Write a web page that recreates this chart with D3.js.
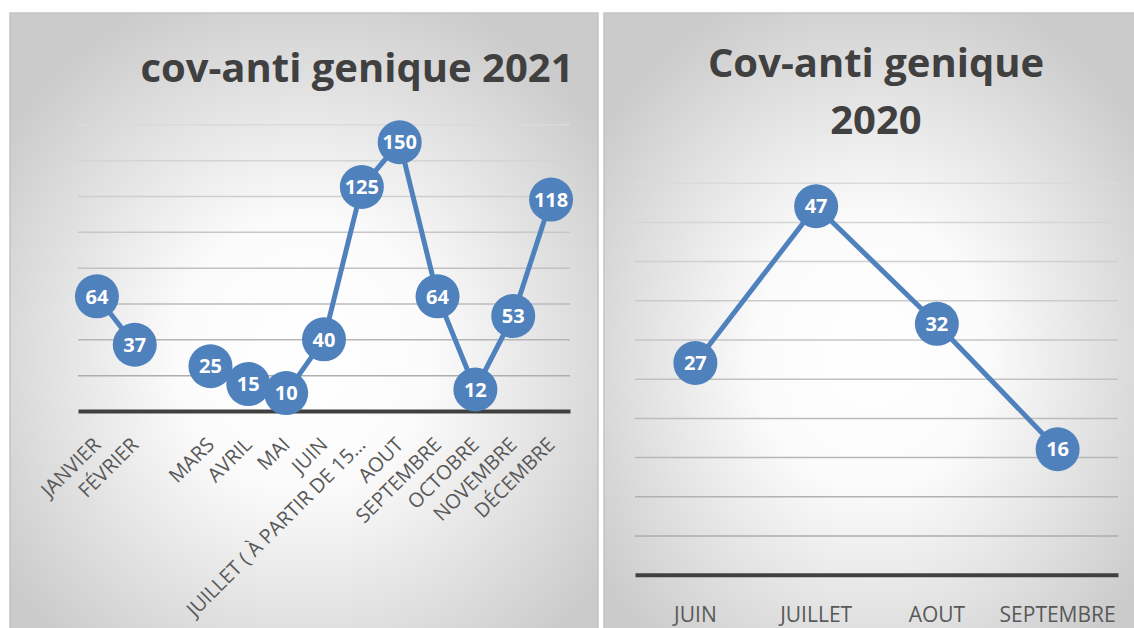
<!DOCTYPE html>
<html>
<head>
<meta charset="utf-8">
<script src="https://cdn.jsdelivr.net/npm/d3@7"></script>
<style>
  body { margin: 0; background: #ffffff; }
  svg { display: block; }
</style>
</head>
<body>
<svg id="chart" width="1134" height="628"></svg>
<script>
// 2021 chart data (one blank category between FÉVRIER and MARS)
const months2021 = ["JANVIER", "FÉVRIER", "", "MARS", "AVRIL", "MAI", "JUIN",
    "JUILLET ( À PARTIR DE 15…", "AOUT", "SEPTEMBRE", "OCTOBRE", "NOVEMBRE", "DÉCEMBRE"];
const values2021 = [64, 37, null, 25, 15, 10, 40, 125, 150, 64, 12, 53, 118];
const grid2021 = [20, 40, 60, 80, 100, 120, 140, 160];

// 2020 chart data
const months2020 = ["JUIN", "JUILLET", "AOUT", "SEPTEMBRE"];
const values2020 = [27, 47, 32, 16];
const grid2020 = [5, 10, 15, 20, 25, 30, 35, 40, 45, 50];

const blue = "#4f81bd";
const svg = d3.select("#chart");
const font = "'Open Sans', sans-serif";

// background gradient used by both panels
const defs = svg.append("defs");
const grad = defs.append("radialGradient")
    .attr("id", "bg")
    .attr("cx", "50%").attr("cy", "55%").attr("r", "62%");
grad.append("stop").attr("offset", "0%").attr("stop-color", "#ffffff");
grad.append("stop").attr("offset", "35%").attr("stop-color", "#fbfbfb");
grad.append("stop").attr("offset", "100%").attr("stop-color", "#cbcbcb");

function drawPanel(x, y, w, h) {
    svg.append("rect")
        .attr("x", x).attr("y", y)
        .attr("width", w).attr("height", h)
        .attr("fill", "url(#bg)")
        .attr("stroke", "#c4c4c4")
        .attr("stroke-width", 1.5);
}

//draws gridlines, axis, line, markers and labels for one chart
function drawLine(cfg) {
    const g = svg.append("g");

    const x = d3.scaleBand()
        .domain(d3.range(cfg.labels.length))
        .range([cfg.left, cfg.right]);
    const y = d3.scaleLinear()
        .domain([0, cfg.max])
        .range([cfg.bottom, cfg.top]);

    // gridlines get a bit darker toward the bottom, like the original
    const gridColor = d3.scaleLinear()
        .domain([cfg.max, 0])
        .range(["#dadada", "#a8a8a8"]);

    const grid = g.append("g")
        .attr("transform", "translate(" + cfg.left + ",0)")
        .call(d3.axisLeft(y)
            .tickValues(cfg.grid)
            .tickSize(-(cfg.right - cfg.left))
            .tickFormat(""));
    grid.select(".domain").remove();
    grid.selectAll(".tick line")
        .attr("stroke", (d) => gridColor(d))
        .attr("stroke-width", 1.5);

    // category axis
    const axis = g.append("g")
        .attr("transform", "translate(0," + cfg.bottom + ")")
        .call(d3.axisBottom(x)
            .tickSize(0)
            .tickSizeOuter(0)
            .tickFormat((i) => cfg.labels[i]));
    axis.select(".domain")
        .attr("stroke", "#404040")
        .attr("stroke-width", 4);
    axis.selectAll("text")
        .attr("fill", "#595959")
        .style("font-family", font)
        .style("font-size", cfg.labelSize + "px");
    if (cfg.rotate) {
        axis.selectAll("text")
            .attr("y", 0).attr("dy", "0.35em")
            .attr("transform", "translate(0,30) rotate(-45)")
            .style("text-anchor", "end");
    } else {
        axis.selectAll("text")
            .attr("y", cfg.labelY).attr("dy", 0);
    }

    const pts = cfg.values.map((v, i) => ({ i: i, v: v }));
    const cx = (d) => x(d.i) + x.bandwidth() / 2;

    const line = d3.line()
        .defined((d) => d.v !== null)
        .x(cx)
        .y((d) => y(d.v));

    g.append("path")
        .datum(pts)
        .attr("d", line)
        .attr("fill", "none")
        .attr("stroke", blue)
        .attr("stroke-width", 5)
        .attr("stroke-linejoin", "round");

    const valid = pts.filter((d) => d.v !== null);
    g.selectAll("circle.mark")
        .data(valid)
        .enter()
        .append("circle")
        .attr("class", "mark")
        .attr("cx", cx)
        .attr("cy", (d) => y(d.v))
        .attr("r", 22)
        .attr("fill", blue);

    g.selectAll("text.val")
        .data(valid)
        .enter()
        .append("text")
        .attr("class", "val")
        .attr("x", cx)
        .attr("y", (d) => y(d.v))
        .attr("dy", "0.36em")
        .attr("text-anchor", "middle")
        .attr("fill", "#ffffff")
        .style("font-family", font)
        .style("font-weight", "bold")
        .style("font-size", "20px")
        .text((d) => d.v);
}

function title(lines, x, y0, step) {
    const t = svg.append("text")
        .attr("text-anchor", "middle")
        .attr("fill", "#404040")
        .style("font-family", font)
        .style("font-weight", "bold")
        .style("font-size", "40px");
    lines.forEach((s, k) => {
        t.append("tspan").attr("x", x).attr("y", y0 + k * step).text(s);
    });
}

drawPanel(10, 13, 588, 620);
drawPanel(604, 13, 535, 620);

drawLine({
    labels: months2021, values: values2021, grid: grid2021, max: 160,
    left: 78, right: 570, top: 124.3, bottom: 411,
    rotate: true, labelSize: 20
});
drawLine({
    labels: months2020, values: values2020, grid: grid2020, max: 50,
    left: 635, right: 1118, top: 182.7, bottom: 574.7,
    rotate: false, labelSize: 21, labelY: 47
});

title(["cov-anti genique 2021"], 357, 82, 0);
title(["Cov-anti genique", "2020"], 876, 77, 57);
</script>
</body>
</html>
